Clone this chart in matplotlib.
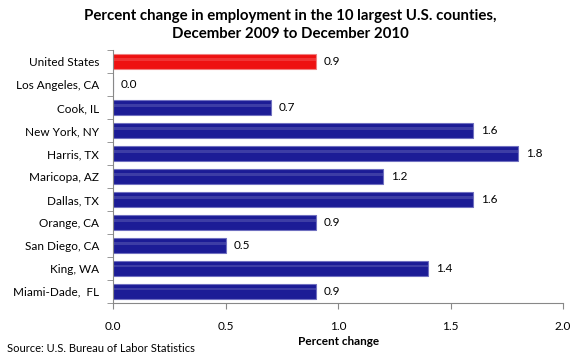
import matplotlib.pyplot as plt
import numpy as np

plt.rcParams['font.family'] = ['Lato', 'DejaVu Sans']

# Data (top to bottom)
areas = ["United States", "Los Angeles, CA", "Cook, IL", "New York, NY", "Harris, TX",
         "Maricopa, AZ", "Dallas, TX", "Orange, CA", "San Diego, CA", "King, WA", "Miami-Dade,  FL"]
pct_change = [0.9, 0.0, 0.7, 1.6, 1.8, 1.2, 1.6, 0.9, 0.5, 1.4, 0.9]

blue = "#1c1c96"
red = "#ee1111"
colors = [red] + [blue] * (len(areas) - 1)
edges = ["#f08080"] + ["#7070c0"] * (len(areas) - 1)

fig = plt.figure(figsize=(5.8, 3.58), dpi=100)
ax = fig.add_axes([0.195, 0.154, 0.776, 0.706])

y = np.arange(len(areas))
ax.barh(y, pct_change, height=0.68, color=colors, edgecolor=edges, linewidth=0.8)
# lighter stripe to hint at the bevelled look
ax.barh(y - 0.1, pct_change, height=0.12, color="white", alpha=0.15, linewidth=0)

for yi, v in zip(y, pct_change):
    ax.text(v + 0.035, yi, "{:.1f}".format(v), va="center", ha="left", fontsize=8.5)

ax.set_xlim(0, 2.0)
ax.set_ylim(len(areas) - 0.5, -0.5)
ax.set_xticks([0, 0.5, 1.0, 1.5, 2.0])
ax.set_xticklabels(["0.0", "0.5", "1.0", "1.5", "2.0"], fontsize=8.5)
ax.set_yticks(y)
ax.set_yticklabels(areas, fontsize=8.5)
ax.set_yticks(np.arange(-0.5, len(areas), 1), minor=True)
ax.tick_params(axis="y", which="major", length=0, pad=10)
ax.tick_params(axis="y", which="minor", length=4, color="#888888", direction="out")
ax.tick_params(axis="x", length=4, color="#888888", direction="out", pad=9)

for s in ["top", "right"]:
    ax.spines[s].set_visible(False)
for s in ["left", "bottom"]:
    ax.spines[s].set_color("#888888")
    ax.spines[s].set_linewidth(0.8)

ax.set_xlabel("Percent change", fontsize=8.5, fontweight="bold", labelpad=3)

fig.text(0.5, 0.975, "Percent change in employment in the 10 largest U.S. counties,\nDecember 2009 to December 2010",
         ha="center", va="top", fontsize=10.8, fontweight="bold", linespacing=1.4)
fig.text(0.012, 0.026, "Source: U.S. Bureau of Labor Statistics", fontsize=8, ha="left", va="center")

fig.savefig("out.png", dpi=100)
